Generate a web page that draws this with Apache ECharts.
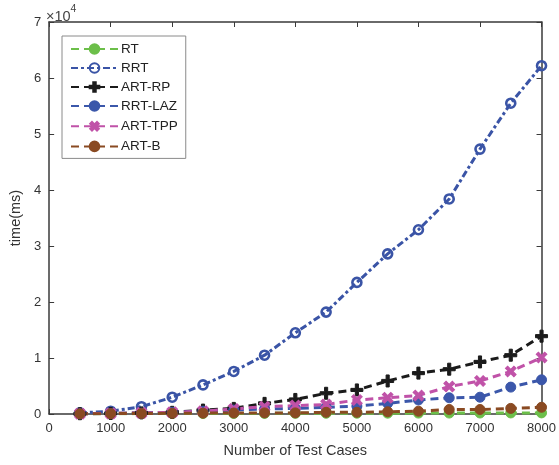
<!DOCTYPE html>
<html><head><meta charset="utf-8">
<script src="https://cdn.jsdelivr.net/npm/echarts@6/dist/echarts.min.js"></script>
<style>html,body{margin:0;padding:0;background:#fff}#c{width:559px;height:465px}</style>
</head><body><div id="c"></div>
<script>
var testCases = [500,1000,1500,2000,2500,3000,3500,4000,4500,5000,5500,6000,6500,7000,7500,8000];
var rt     = [50,60,70,80,90,100,110,120,130,140,150,160,170,180,190,200];
var rrt    = [200,500,1300,3000,5200,7600,10500,14500,18200,23500,28600,32900,38400,47300,55500,62200];
var artRp  = [50,100,200,300,700,1000,1900,2600,3700,4300,5900,7300,8000,9300,10500,13900];
var rrtLaz = [40,80,150,300,500,700,900,1000,1200,1400,1900,2500,2900,3000,4800,6100];
var artTpp = [50,100,200,300,500,900,1300,1500,1700,2500,2900,3300,4900,5900,7600,10100];
var artB   = [30,60,90,120,150,180,200,200,300,300,400,500,800,800,1000,1200];
var xTicks = [0,1000,2000,3000,4000,5000,6000,7000,8000];
var yTicks = [0,1,2,3,4,5,6,7];

var FONT = 'Liberation Sans, Arial, sans-serif';
var plusPath = 'path://M-1.3,-5 L1.3,-5 L1.3,-1.3 L5,-1.3 L5,1.3 L1.3,1.3 L1.3,5 L-1.3,5 L-1.3,1.3 L-5,1.3 L-5,-1.3 L-1.3,-1.3 Z';

function pairs(arr){ return testCases.map(function(x,i){ return [x, arr[i]]; }); }

function mk(name, data, color, symbol, size, dash, opts){
  opts = opts || {};
  return {
    name: name, type: 'line', data: pairs(data),
    symbol: symbol, symbolSize: size, symbolRotate: opts.rotate || 0,
    showAllSymbol: true,
    lineStyle: { color: color, width: 3, type: dash },
    itemStyle: opts.hollow ? { color: 'rgba(0,0,0,0)', borderColor: color, borderWidth: 2.6 } : { color: color, borderColor: color, borderWidth: 1 },
    emphasis: { disabled: true },
    animation: false
  };
}

var chart = echarts.init(document.getElementById('c'));
var axisLine = { show: true, onZero: false, lineStyle: { color: '#3a3a3a', width: 1.5 } };
var tick = { show: true, inside: true, length: 5, lineStyle: { color: '#3a3a3a', width: 1 } };
chart.setOption({
  animation: false,
  backgroundColor: '#fff',
  grid: { left: 46, right: 16, top: 22, bottom: 51, containLabel: false },
  legend: {
    left: 62, top: 36, orient: 'vertical',
    itemWidth: 47, itemHeight: 12, itemGap: 5,
    padding: [6, 8, 5, 8],
    backgroundColor: '#fff', borderColor: '#8a8a8a', borderWidth: 1, borderRadius: 0,
    textStyle: { fontFamily: FONT, fontSize: 13.5, color: '#222', padding: [0,0,0,-2] },
    data: ['RT','RRT','ART-RP','RRT-LAZ','ART-TPP','ART-B']
  },
  xAxis: [{
    type: 'value', min: 0, max: 8000, interval: 1000,
    name: 'Number of Test Cases', nameLocation: 'middle', nameGap: 29,
    nameTextStyle: { fontFamily: FONT, fontSize: 14.5, color: '#333' },
    axisLine: axisLine, axisTick: tick,
    axisLabel: { fontFamily: FONT, fontSize: 13, color: '#333', margin: 8,
      formatter: function(v){ return xTicks.indexOf(v) >= 0 ? String(v) : ''; } },
    splitLine: { show: false }
  },{
    type: 'value', position: 'top', min: 0, max: 8000, interval: 1000,
    axisLine: axisLine, axisTick: tick,
    axisLabel: { show: false }, splitLine: { show: false }
  }],
  yAxis: [{
    type: 'value', min: 0, max: 70000, interval: 10000,
    name: 'time(ms)', nameLocation: 'middle', nameGap: 24, nameRotate: 90,
    nameTextStyle: { fontFamily: FONT, fontSize: 14.5, color: '#333' },
    axisLine: axisLine, axisTick: tick,
    axisLabel: { fontFamily: FONT, fontSize: 13, color: '#333', margin: 8,
      formatter: function(v){ var t = v/10000; return yTicks.indexOf(t) >= 0 ? String(t) : ''; } },
    splitLine: { show: false }
  },{
    type: 'value', position: 'right', min: 0, max: 70000, interval: 10000,
    axisLine: axisLine, axisTick: tick,
    axisLabel: { show: false }, splitLine: { show: false }
  }],
  graphic: [{
    type: 'text', left: 46, top: 4,
    style: { text: '{a|×10}{b|4}', rich: {
      a: { fontFamily: FONT, fontSize: 14.5, fill: '#444', verticalAlign: 'bottom', padding: [5,0,0,0] },
      b: { fontFamily: FONT, fontSize: 10.5, fill: '#444', verticalAlign: 'top' } } }
  }],
  series: [
    mk('RT', rt, '#6cbf4a', 'circle', 10, [8,5]),
    mk('RRT', rrt, '#3a54a6', 'circle', 9, [7,3,3,3], { hollow: true }),
    mk('ART-RP', artRp, '#1b1b1b', plusPath, 12, [8,5]),
    mk('RRT-LAZ', rrtLaz, '#3b57aa', 'circle', 10, [8,5]),
    mk('ART-TPP', artTpp, '#c052a8', plusPath, 12, [8,5], { rotate: 45 }),
    mk('ART-B', artB, '#8a4a22', 'circle', 10, [8,5])
  ]
});
</script></body></html>
